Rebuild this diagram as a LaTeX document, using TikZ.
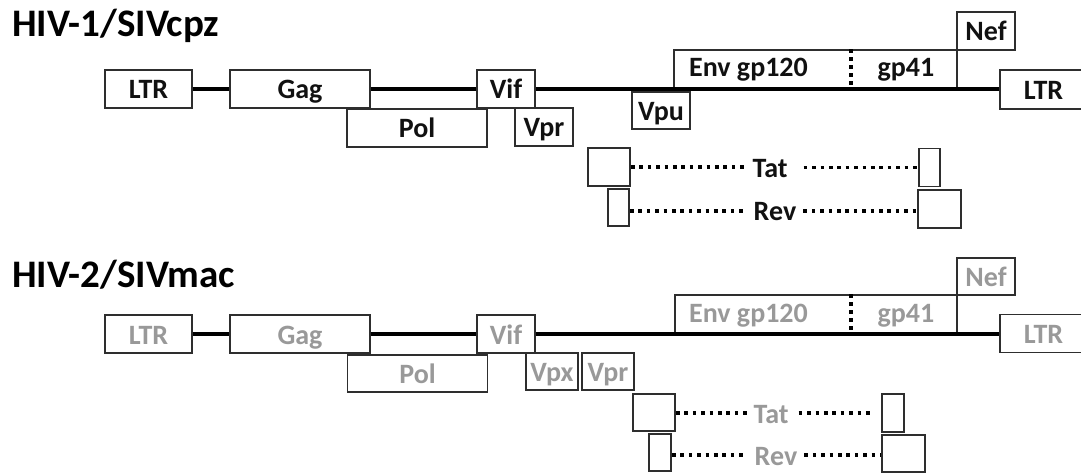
\documentclass[tikz,border=0pt]{standalone}
\usepackage{fontspec}
\setmainfont{Carlito}
\definecolor{edgegray}{HTML}{2E2E2E}
\definecolor{darktext}{HTML}{111111}
\definecolor{paletext}{HTML}{999999}
\begin{document}
\begin{tikzpicture}[x=1pt,y=-1pt,
  gene/.style={draw=edgegray, line width=1.9pt, fill=white, inner sep=0pt,
    minimum height=38pt, text height=20pt, text depth=0pt,
    font=\bfseries\fontsize{28}{28}\selectfont},
  genelabel/.style={anchor=base, inner xsep=4pt, inner ysep=0pt,
    font=\bfseries\fontsize{28}{28}\selectfont},
  title/.style={anchor=base west, inner sep=0pt,
    font=\bfseries\fontsize{39}{39}\selectfont},
  backbone/.style={line width=3.6pt},
  splice/.style={line width=3.6pt, dash pattern=on 3.6pt off 4.8pt},
  divider/.style={line width=3.6pt, dash pattern=on 4pt off 4pt}]
  \useasboundingbox (0,0) rectangle (1081,473);

  \node[title] (hivone) at (12,37) {HIV-1/SIVcpz};
  \begin{scope}[every node/.append style={text=darktext}]
    \node[gene, minimum width=87pt] (ltrA) at (148.5,89) {LTR};
    \node[gene, minimum width=140pt] (gagA) at (300,89) {Gag};
    \node[gene, minimum width=140pt] (polA) at (417,128) {Pol};
    \node[gene, minimum width=58pt] (vifA) at (506,89) {Vif};
    \node[gene, minimum width=58pt] (vprA) at (544,127) {Vpr};
    \node[gene, minimum width=58pt, minimum height=37pt] (vpuA) at (661,110.5) {Vpu};
    \node[gene, minimum width=283pt] (envA) at (815.5,69) {};
    \node[gene, minimum width=58pt] (nefA) at (986,31) {Nef};
    \node[gene, minimum width=87pt, minimum height=39pt] (ltrB) at (1043.5,89.5) {LTR};
    \node[genelabel] (gpA) at (748.5,77) {Env gp120};
    \node[genelabel] (gpB) at (906,77) {gp41};
    \node[gene, minimum width=42pt] (tatL) at (609,167) {};
    \node[gene, minimum width=21pt] (tatR) at (929.5,167.5) {};
    \node[gene, minimum width=21pt, minimum height=37pt] (revL) at (618.5,207.5) {};
    \node[gene, minimum width=43pt] (revR) at (939.5,209) {};
    \node[genelabel] (tatA) at (770,178) {Tat};
    \node[genelabel] (revA) at (775,220) {Rev};
  \end{scope}
  \draw[backbone] (ltrA.east) -- (gagA.west);
  \draw[backbone] (gagA.east) -- (vifA.west);
  \draw[backbone] (vifA.east) -- (vifA.east -| ltrB.west);
  \draw[divider] (envA.north west) ++(178,0) -- ++(0,38);
  \draw[splice] (tatL.east) -- (tatL.east -| tatA.west);
  \draw[splice, shorten <=12pt] (tatR.west -| tatA.east) -- (tatR.west);
  \draw[splice, shorten >=5pt] (revL.east |- 0,211) -- (revA.west |- 0,211);
  \draw[splice, shorten <=3pt] (revA.east |- 0,211) -- (revR.west |- 0,211);

  \node[title] (hivtwo) at (12,287) {HIV-2/SIVmac};
  \begin{scope}[every node/.append style={text=paletext}]
    \node[gene, minimum width=87pt] (ltrC) at (148.5,334) {LTR};
    \node[gene, minimum width=140pt] (gagC) at (300,334) {Gag};
    \node[gene, minimum width=140pt, minimum height=37pt] (polC) at (417.5,373.5) {Pol};
    \node[gene, minimum width=58pt] (vifC) at (506,334) {Vif};
    \node[gene, minimum width=52pt, minimum height=37pt] (vpxC) at (552,371.5) {Vpx};
    \node[gene, minimum width=52pt, minimum height=37pt] (vprC) at (608,371.5) {Vpr};
    \node[gene, minimum width=282pt] (envC) at (816,314) {};
    \node[gene, minimum width=58pt, minimum height=37pt] (nefC) at (986,276.5) {Nef};
    \node[gene, minimum width=87pt] (ltrD) at (1043.5,333.5) {LTR};
    \node[genelabel] (gpC) at (748.5,322) {Env gp120};
    \node[genelabel] (gpD) at (906,322) {gp41};
    \node[gene, minimum width=42pt, minimum height=37pt] (tatL2) at (654,412.5) {};
    \node[gene, minimum width=22pt] (tatR2) at (893,413) {};
    \node[gene, minimum width=22pt, minimum height=37pt] (revL2) at (660,452.5) {};
    \node[gene, minimum width=43pt, minimum height=37pt] (revR2) at (903.5,453.5) {};
    \node[genelabel] (tatB) at (771,423) {Tat};
    \node[genelabel] (revB) at (776,465) {Rev};
  \end{scope}
  \draw[backbone] (ltrC.east) -- (gagC.west);
  \draw[backbone] (gagC.east) -- (vifC.west);
  \draw[backbone] (vifC.east) -- (vifC.east -| ltrD.west);
  \draw[divider] (envC.north west) ++(177,0) -- ++(0,38);
  \draw[splice] (tatL2.east |- 0,413) -- (tatB.west |- 0,413);
  \draw[splice, shorten <=6pt, shorten >=9pt] (tatB.east |- 0,413) -- (tatR2.west |- 0,413);
  \draw[splice, shorten >=4pt] (revL2.east |- 0,455) -- (revB.west |- 0,455);
  \draw[splice, shorten <=3pt] (revB.east |- 0,455) -- (revR2.west |- 0,455);
\end{tikzpicture}
\end{document}
